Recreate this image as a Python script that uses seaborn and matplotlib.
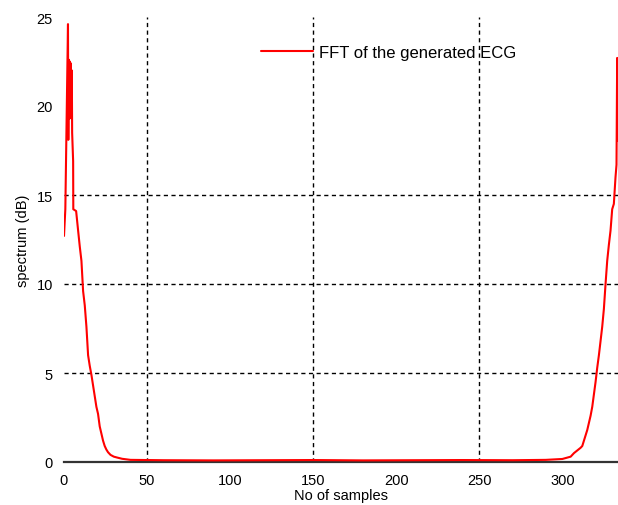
import numpy as np
import pandas as pd
import matplotlib
matplotlib.use("Agg")
import matplotlib.pyplot as plt
import seaborn as sns

# ---- data ----
samples_left = [0, 0.8, 2.4, 2.6, 2.9, 3.2, 3.5, 3.8, 4.1, 4.4, 4.7, 4.9, 5.5, 5.6,
                7.3, 8.5, 9.5, 10.5, 11.5, 12.5, 13.5, 14.5, 15.5, 16.5, 17.5, 18.5,
                19.5, 20.5, 21.5, 22.5, 23.5, 24.5, 25.5, 26.5, 28, 30, 32, 35, 40]
spectrum_left = [12.7, 14.2, 24.6, 18.1, 22.6, 19.3, 22.5, 19.4, 22.4, 19.3, 22.0, 18.5, 16.9, 14.2,
                 14.1, 13.0, 12.1, 11.3, 9.6, 8.8, 7.6, 6.0, 5.4, 4.9, 4.3, 3.7,
                 3.1, 2.7, 2.0, 1.6, 1.2, 0.9, 0.7, 0.55, 0.4, 0.3, 0.25, 0.18, 0.12]

samples_mid = [60, 90, 120, 150, 180, 210, 240, 270, 290]
spectrum_mid = [0.10, 0.09, 0.10, 0.11, 0.09, 0.10, 0.11, 0.10, 0.12]

samples_right = [300, 305, 307, 309, 311, 312, 313, 314, 315, 316, 317, 318, 319, 320,
                 321, 322, 323, 324, 325, 326, 327, 328, 329, 330, 331, 332, 332.6,
                 333.0, 333.3, 333.6, 334.0, 335.0]
spectrum_right = [0.17, 0.3, 0.5, 0.65, 0.8, 0.9, 1.2, 1.5, 1.8, 2.2, 2.6, 3.1, 3.8, 4.5,
                  5.3, 6.0, 6.8, 7.6, 8.6, 10.0, 11.3, 12.2, 13.0, 14.2, 14.5, 16.0, 16.7,
                  22.7, 18.4, 22.5, 18.0, 24.0]

x_ticks = [0, 50, 100, 150, 200, 250, 300]
y_ticks = [0, 5, 10, 15, 20, 25]
series_label = "FFT of the generated ECG"

df = pd.DataFrame({
    "sample": samples_left + samples_mid + samples_right,
    "spectrum": spectrum_left + spectrum_mid + spectrum_right,
    "series": series_label,
})

sns.set_style("white")
plt.rcParams["font.family"] = ["Liberation Sans", "DejaVu Sans"]
plt.rcParams["text.color"] = "black"
plt.rcParams["axes.labelcolor"] = "black"

fig = plt.figure(figsize=(6.18, 5.06), dpi=100)
W, H = 618, 506
ax = fig.add_axes([64 / W, (H - 463) / H, (618 - 64) / W, (463 - 18) / H])

sns.lineplot(data=df, x="sample", y="spectrum", hue="series", palette=["#ff0000"],
             sort=False, estimator=None, linewidth=1.5, ax=ax)

ax.set_xlim(0, 333.5)
ax.set_ylim(0, 25)
ax.set_xticks(x_ticks)
ax.set_yticks(y_ticks)
ax.tick_params(axis="both", length=0, labelsize=10.5, pad=8, colors="black")

ax.grid(True, color="black", linestyle=(0, (3, 2.5)), linewidth=1.0)
visible_x = {50, 150, 250}
for val, gl in zip(x_ticks, ax.get_xgridlines()):
    gl.set_visible(val in visible_x)
visible_y = {5, 10, 15}
for val, gl in zip(y_ticks, ax.get_ygridlines()):
    gl.set_visible(val in visible_y)

for side in ["top", "right", "left"]:
    ax.spines[side].set_visible(False)
ax.spines["bottom"].set_color("#333333")
ax.spines["bottom"].set_linewidth(1.6)
ax.spines["bottom"].set_zorder(1)

ax.set_xlabel("No of samples", fontsize=10.5, labelpad=1, color="black")
ax.set_ylabel("spectrum (dB)", fontsize=10.5, labelpad=5, color="black")

leg = ax.legend(loc="center right", bbox_to_anchor=(0.816, 0.921), frameon=False,
                fontsize=12, handlelength=3.1, handletextpad=0.35,
                borderaxespad=0, borderpad=0, labelcolor="black")

fig.savefig("out.png", dpi=100)
